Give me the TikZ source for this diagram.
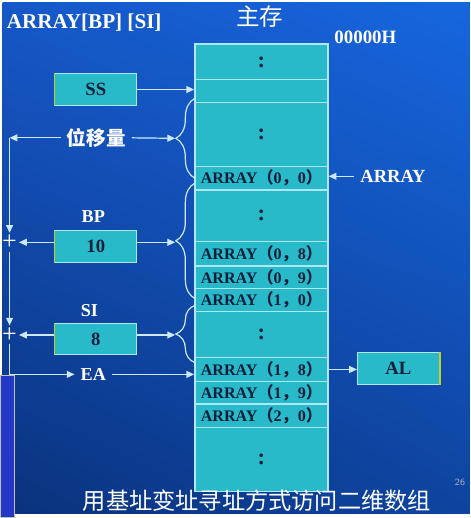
\documentclass[tikz,border=0pt]{standalone}
\usepackage{fontspec}
\setmainfont{Liberation Serif}
\newfontfamily\cjk{Noto Sans CJK SC}
\usetikzlibrary{arrows.meta,positioning,shadings,decorations.pathreplacing}

\definecolor{fondhg}{RGB}{22,88,200}
\definecolor{fondhd}{RGB}{22,102,222}
\definecolor{fondbg}{RGB}{10,50,125}
\definecolor{fondbd}{RGB}{14,68,160}
\definecolor{cyancase}{RGB}{40,186,200}
\definecolor{bordcase}{RGB}{175,232,242}
\definecolor{encre}{RGB}{12,30,60}
\definecolor{trait}{RGB}{205,232,255}
\definecolor{jaune}{RGB}{200,205,40}
\definecolor{ecran}{RGB}{36,56,200}

\newcommand{\arr}[2]{ARRAY{\cjk（}#1{\cjk，}#2{\cjk）}}
\newcommand{\pts}{{\fontsize{13}{13}\selectfont :}}

\begin{document}
\begin{tikzpicture}[x=0.02cm,y=-0.02cm]
  %% ADRESSAGE BASE + INDEX

  \tikzstyle{case}=[draw=bordcase,fill=cyancase,line width=0.8pt,inner sep=0pt,
    minimum width=2.7cm,text=encre,font=\bfseries\fontsize{9.3}{11}\selectfont]
  \tikzstyle{boite}=[draw=bordcase,fill=cyancase,line width=0.6pt,
    minimum width=1.66cm,minimum height=0.64cm,text=encre,
    font=\bfseries\fontsize{10.8}{12}\selectfont]
  \tikzstyle{etiq}=[text=white,font=\bfseries\fontsize{10.5}{12}\selectfont]
  \tikzstyle{fleche}=[-{Triangle[length=4.5pt,width=4pt]},draw=trait,line width=0.7pt]
  \tikzstyle{accolade}=[draw=trait,line width=0.7pt,decorate,
    decoration={brace,amplitude=11pt}]

  % fond
  \shade[upper left=fondhg,upper right=fondhd,lower left=fondbg,lower right=fondbd]
  (0,0) rectangle (474,518);
  \draw[draw=gray!50!white,fill=ecran,line width=0.8pt] (-2,378) rectangle (12,522);

  % titres
  \node[text=white,anchor=west,font=\bfseries\fontsize{12.2}{14}\selectfont]
  (titre) at (-2,20) {ARRAY[BP] [SI]};
  \node[text=white,font=\cjk\fontsize{13.6}{15}\selectfont] (zc) at (261,14) {主存};
  \node[text=white,font=\bfseries\fontsize{10.9}{12}\selectfont] (adr) at (368,35) {00000H};

  % memoire
  \foreach \n/\t/\b/\txt in {1/42/78/\pts, 2/78/101/{}, 3/101/166/\pts,
    4/166/190/{\arr{0}{0}}, 5/190/242/\pts, 6/242/267/{\arr{0}{8}},
    7/267/290/{\arr{0}{9}}, 8/290/313/{\arr{1}{0}}, 9/313/360/\pts,
    10/360/384/{\arr{1}{8}}, 11/384/407/{\arr{1}{9}},
    12/407/431/{\arr{2}{0}}, 13/431/496/\pts} {
    \node[case,minimum height={(\b-\t)*0.02cm}] (r\n) at (262.5,{(\t+\b)/2}) {\txt};
  }

  % registres
  \node[boite] (ss) at (94.5,88) {SS};
  \node[boite] (bp) at (94.5,247) {10};
  \node[boite] (si) at (94.5,341) {8};
  \node[boite] (al) at (401.5,371) {AL};
  \foreach \r in {ss,bp,si}{
    \draw[jaune,line width=1pt] (\r.north west) -- (\r.south west);
  }
  \draw[jaune,line width=1pt] (al.north east) -- (al.south east);

  \node[etiq] (bplab) at (92,217) {BP};
  \node[etiq] (silab) at (88,312) {SI};
  \node[etiq] (ea) at (92,377) {EA};
  \node[etiq,font=\cjk\bfseries\fontsize{11.3}{13}\selectfont] (disp) at (95,137) {位移量};
  \node[etiq,font=\fontsize{10.7}{12}\selectfont\bfseries] (arlab) at (396,176) {ARRAY};

  \node[text=white,inner sep=1pt,font=\fontsize{15}{15}\selectfont] (p1) at (7,243) {+};
  \node[text=white,inner sep=1pt,font=\fontsize{15}{15}\selectfont] (p2) at (7,337) {+};

  % accolades
  \draw[accolade] (195,178) -- (195,97);
  \draw[accolade] (195,300) -- (195,183);
  \draw[accolade] (195,365) -- (195,307);
  \coordinate (pa) at (175,137.5);
  \coordinate (pb) at (175,243);
  \coordinate (pc) at (175,337);
  \coordinate (hg) at (7,137);

  % fleches
  \draw[fleche] (ss.east) -- (ss.east -| r2.west);
  \draw[fleche] (arlab.west) -- (arlab.west -| r4.east);
  \draw[fleche] (r10.east) -- (r10.east -| al.west);
  \draw[fleche] (disp.east) -- (pa);
  \draw[fleche] (disp.west) -- (hg);
  \draw[fleche] (bp.east |- pb) -- (pb);
  \draw[fleche] (si.east |- pc) -- (pc);
  \draw[fleche] (bp.west |- p1) -- (p1.east);
  \draw[fleche] (si.west |- p2) -- (p2.east);
  \draw[fleche] (hg) -- (p1.north);
  \draw[fleche] (p1.south) -- (p2.north);
  \draw[fleche] (p2.south) |- (ea.west);
  \draw[fleche] (ea.east) -- (ea.east -| r10.west);

  % legende
  \node[text=white,font=\cjk\fontsize{13.4}{15}\selectfont] (legende) at (258,505)
  {用基址变址寻址方式访问二维数组};
  \node[text=gray!60!white,font=\sffamily\fontsize{5.5}{6}\selectfont] (page) at (464,487) {26};
\end{tikzpicture}
\end{document}
